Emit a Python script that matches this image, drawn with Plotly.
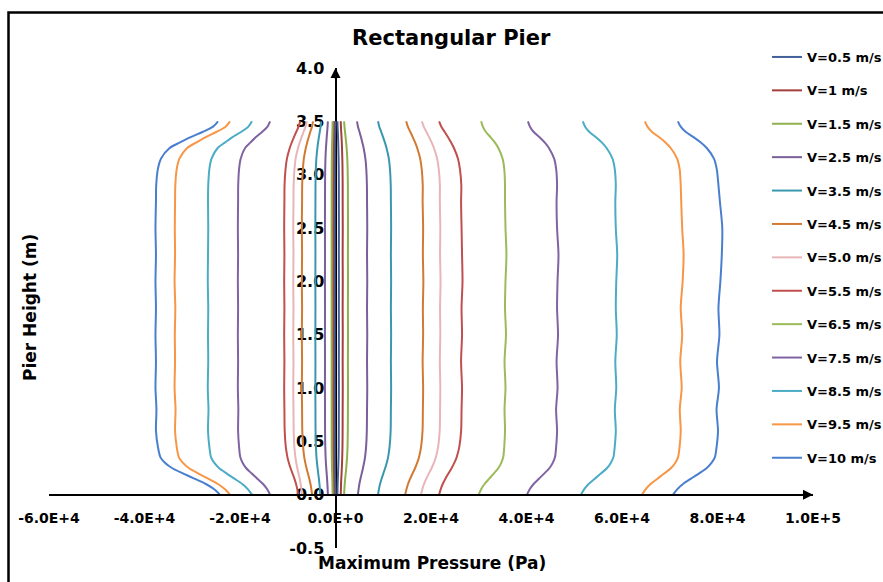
import plotly.graph_objects as go

# Heights along the pier (m)
heights = [0.0, 0.05, 0.1, 0.15, 0.2, 0.25, 0.3, 0.35, 0.45, 0.6, 0.8, 1.0, 1.25, 1.5,
           1.75, 2.0, 2.25, 2.5, 2.75, 2.9, 3.05, 3.15, 3.25, 3.3, 3.35, 3.4, 3.45, 3.5]

# Positive-side pressure profiles (Pa)
pos_05 = [400, 420, 450, 490, 530, 570, 610, 640, 670, 690, 700, 710, 700, 710, 700, 710, 700, 710, 700, 700, 680, 650, 600, 570, 530, 490, 440, 400]
pos_10 = [1100, 1130, 1160, 1210, 1270, 1320, 1370, 1410, 1460, 1490, 1500, 1520, 1500, 1520, 1500, 1520, 1500, 1520, 1500, 1500, 1470, 1430, 1360, 1320, 1260, 1200, 1140, 1100]
pos_15 = [1800, 1860, 1930, 2020, 2140, 2250, 2340, 2420, 2520, 2580, 2600, 2620, 2600, 2620, 2600, 2620, 2600, 2620, 2600, 2590, 2540, 2470, 2330, 2230, 2120, 2000, 1880, 1800]
pos_25 = [4700, 4830, 5000, 5230, 5500, 5760, 5990, 6180, 6410, 6560, 6600, 6650, 6600, 6650, 6600, 6650, 6600, 6650, 6600, 6580, 6450, 6260, 5890, 5630, 5340, 5030, 4710, 4500]
pos_35 = [8900, 9090, 9330, 9660, 10030, 10410, 10740, 11010, 11330, 11550, 11600, 11650, 11600, 11650, 11600, 11650, 11600, 11650, 11600, 11570, 11410, 11170, 10680, 10360, 9980, 9580, 9170, 8900]
pos_45 = [14600, 14860, 15190, 15640, 16150, 16670, 17120, 17490, 17930, 18230, 18300, 18350, 18250, 18350, 18300, 18400, 18300, 18350, 18250, 18270, 18060, 17740, 17110, 16690, 16200, 15680, 15150, 14800]
pos_50 = [17900, 18180, 18540, 19020, 19580, 20140, 20620, 21020, 21500, 21820, 21900, 21950, 21850, 21950, 21900, 22000, 21900, 21950, 21850, 21860, 21630, 21290, 20610, 20150, 19620, 19050, 18480, 18100]
pos_55 = [21700, 22030, 22450, 23020, 23670, 24330, 24900, 25370, 25930, 26310, 26400, 26500, 26300, 26500, 26400, 26600, 26500, 26400, 26300, 26350, 26070, 25650, 24800, 24240, 23580, 22880, 22170, 21700]
pos_65 = [30000, 30500, 31210, 32200, 33190, 34130, 34730, 35120, 35340, 35500, 35400, 35600, 35400, 35700, 35500, 35600, 35800, 35600, 35500, 35500, 35350, 35000, 34100, 33400, 32500, 31500, 30850, 30500]
pos_75 = [40100, 40670, 41490, 42620, 43750, 44830, 45520, 45960, 46210, 46400, 46200, 46500, 46300, 46600, 46400, 46500, 46700, 46400, 46300, 46400, 46220, 45790, 44690, 43840, 42740, 41520, 40730, 40300]
pos_85 = [51400, 52060, 53010, 54320, 55630, 56880, 57680, 58190, 58480, 58700, 58500, 58800, 58600, 58900, 58700, 58800, 59000, 58700, 58600, 58700, 58490, 58010, 56770, 55800, 54560, 53180, 52280, 51800]
pos_95 = [64200, 64930, 65980, 67440, 68900, 70280, 71170, 71730, 72060, 72300, 72100, 72500, 72200, 72600, 72300, 72700, 72900, 72600, 72400, 72300, 72080, 71550, 70200, 69150, 67800, 66300, 65330, 64800]
pos_100 = [70700, 71550, 72770, 74460, 76150, 77750, 78780, 79440, 79820, 80100, 79800, 80300, 79900, 80400, 80200, 80600, 80900, 81000, 80500, 80200, 79850, 79260, 77750, 76570, 75060, 73380, 72290, 71700]

# Negative-side pressure profiles (Pa)
neg_05 = [-100, -105, -110, -120, -130, -140, -150, -155, -160, -165, -170, -170, -170, -170, -170, -170, -170, -170, -170, -170, -165, -160, -150, -140, -130, -120, -110, -100]
neg_10 = [-350, -360, -380, -400, -420, -440, -460, -470, -490, -500, -500, -510, -500, -510, -500, -510, -500, -510, -500, -500, -490, -480, -460, -440, -420, -400, -370, -350]
neg_15 = [-600, -620, -640, -670, -700, -730, -750, -770, -790, -800, -800, -810, -800, -810, -800, -810, -800, -810, -800, -800, -790, -770, -740, -710, -680, -650, -620, -600]
neg_25 = [-1600, -1640, -1700, -1770, -1850, -1940, -2010, -2070, -2140, -2190, -2200, -2210, -2200, -2210, -2200, -2210, -2200, -2210, -2200, -2190, -2160, -2100, -2000, -1920, -1840, -1750, -1660, -1600]
neg_35 = [-3200, -3270, -3360, -3480, -3620, -3760, -3880, -3980, -4100, -4180, -4200, -4220, -4200, -4220, -4200, -4220, -4200, -4220, -4200, -4190, -4120, -4010, -3790, -3650, -3480, -3300, -3120, -3000]
neg_45 = [-4900, -5050, -5240, -5490, -5780, -6080, -6330, -6540, -6790, -6960, -7000, -7050, -7000, -7050, -7000, -7050, -7000, -7050, -7000, -6980, -6840, -6630, -6220, -5940, -5620, -5280, -4930, -4700]
neg_50 = [-7000, -7130, -7290, -7500, -7760, -8010, -8220, -8400, -8620, -8760, -8800, -8850, -8800, -8850, -8800, -8850, -8800, -8850, -8800, -8770, -8600, -8350, -7850, -7510, -7120, -6700, -6280, -6000]
neg_55 = [-7800, -8000, -8260, -8610, -9020, -9420, -9770, -10060, -10410, -10640, -10700, -10750, -10700, -10750, -10700, -10750, -10700, -10750, -10700, -10670, -10470, -10170, -9580, -9180, -8720, -8230, -7730, -7400]
neg_75 = [-13700, -14300, -15170, -16380, -17590, -18730, -19460, -19930, -20200, -20400, -20350, -20450, -20400, -20450, -20400, -20450, -20400, -20450, -20400, -20380, -20200, -19860, -18930, -17850, -16720, -15380, -14240, -13700]
neg_85 = [-17500, -18330, -19520, -21180, -22840, -24400, -25410, -26060, -26420, -26700, -26600, -26750, -26650, -26700, -26650, -26750, -26700, -26650, -26700, -26650, -26420, -25960, -24680, -23200, -21640, -19800, -18240, -17500]
neg_95 = [-22100, -23140, -24630, -26700, -28770, -30730, -31990, -32800, -33260, -33600, -33500, -33700, -33600, -33650, -33550, -33700, -33600, -33650, -33600, -33550, -33260, -32680, -31070, -29230, -27280, -24980, -23020, -22100]
neg_100 = [-24200, -25410, -27150, -29560, -31970, -34250, -35720, -36660, -37200, -37600, -37500, -37700, -37600, -37700, -37600, -37700, -37600, -37700, -37600, -37550, -37210, -36560, -34740, -32660, -30450, -27850, -25640, -24600]

series_names = ["V=0.5 m/s", "V=1 m/s", "V=1.5 m/s", "V=2.5 m/s", "V=3.5 m/s", "V=4.5 m/s",
                "V=5.0 m/s", "V=5.5 m/s", "V=6.5 m/s", "V=7.5 m/s", "V=8.5 m/s", "V=9.5 m/s", "V=10 m/s"]
series_colors = ["#41609A", "#A33F3C", "#8FB04E", "#7A5F9A", "#3A98AE", "#D27A33",
                 "#E8B6B8", "#C0504D", "#9BBB59", "#8064A2", "#4BACC6", "#F79646", "#4A7FCF"]
pos_profiles = [pos_05, pos_10, pos_15, pos_25, pos_35, pos_45, pos_50, pos_55, pos_65,
                pos_75, pos_85, pos_95, pos_100]
neg_profiles = [neg_05, neg_10, neg_15, neg_25, neg_35, neg_45, neg_50, neg_55, None,
                neg_75, neg_85, neg_95, neg_100]

x_tickvals = [-60000, -40000, -20000, 0, 20000, 40000, 60000, 80000, 100000]
x_ticktext = ["-6.0E+4", "-4.0E+4", "-2.0E+4", "0.0E+0", "2.0E+4", "4.0E+4", "6.0E+4", "8.0E+4", "1.0E+5"]
y_tickvals = [-0.5, 0.0, 0.5, 1.0, 1.5, 2.0, 2.5, 3.0, 3.5, 4.0]
y_ticktext = ["-0.5", "0.0", "0.5", "1.0", "1.5", "2.0", "2.5", "3.0", "3.5", "4.0"]

FONT = "DejaVu Sans"
W, H = 883, 582
ML, MR, MT, MB = 49, 70, 68, 34
W_PLOT, H_PLOT = W - ML - MR, H - MT - MB


def px_to_paper(px, py):
    return (px - ML) / W_PLOT, 1 - (py - MT) / H_PLOT


fig = go.Figure()
for name, color, pos, neg in zip(series_names, series_colors, pos_profiles, neg_profiles):
    fig.add_trace(go.Scatter(x=pos, y=heights, mode="lines", name=name, legendgroup=name,
                             line=dict(color=color, width=2, shape="spline", smoothing=0.8)))
    if neg is not None:
        fig.add_trace(go.Scatter(x=neg, y=heights, mode="lines", name=name, legendgroup=name,
                                 showlegend=False,
                                 line=dict(color=color, width=2, shape="spline", smoothing=0.8)))

leg_x, leg_y = px_to_paper(767, 42)
xt_x, xt_y = px_to_paper(432, 563)
yt_x, yt_y = px_to_paper(30, 308)
bx0, by1 = px_to_paper(8.5, 12.5)

fig.update_layout(
    width=W, height=H,
    margin=dict(l=ML, r=MR, t=MT, b=MB, autoexpand=False),
    paper_bgcolor="white", plot_bgcolor="white",
    font=dict(family=FONT, color="black"),
    showlegend=True,
    legend=dict(x=leg_x, xanchor="left", y=leg_y, yanchor="top", maxheight=560,
                font=dict(family=FONT, size=13, weight="bold", color="black"),
                tracegroupgap=13.5, itemwidth=30, bgcolor="rgba(0,0,0,0)"),
    xaxis=dict(range=[-60000, 100000], anchor="free", position=0.5 / 4.5,
               showline=True, linecolor="black", linewidth=2, showgrid=False, zeroline=False,
               tickmode="array", tickvals=x_tickvals, ticktext=x_ticktext, ticks="",
               ticklabelstandoff=11,
               tickfont=dict(family=FONT, size=14, weight="bold", color="black")),
    yaxis=dict(range=[-0.5, 4.0], anchor="free", position=0.375,
               showline=True, linecolor="black", linewidth=2, showgrid=False, zeroline=False,
               tickmode="array", tickvals=y_tickvals, ticktext=y_ticktext, ticks="",
               ticklabelstandoff=7, layer="below traces",
               tickfont=dict(family=FONT, size=16, weight="bold", color="black")),
    title=dict(text="Rectangular Pier", x=0.511, xref="container", xanchor="center",
               y=1 - 38 / H, yref="container", yanchor="middle",
               font=dict(family=FONT, size=21, weight="bold", color="black")),
    shapes=[dict(type="rect", xref="paper", yref="paper", x0=bx0, x1=1.3, y0=-0.3, y1=by1,
                 line=dict(color="black", width=2.5), layer="below")],
    annotations=[
        dict(x=100000, y=0, xref="x", yref="y", ax=-12, ay=0, text="", showarrow=True,
             arrowhead=2, arrowsize=1, arrowwidth=2, arrowcolor="black"),
        dict(x=0, y=4.0, xref="x", yref="y", ax=0, ay=12, text="", showarrow=True,
             arrowhead=2, arrowsize=1, arrowwidth=2, arrowcolor="black"),
        dict(text="Maximum Pressure (Pa)", x=xt_x, y=xt_y, xref="paper", yref="paper",
             xanchor="center", yanchor="middle", showarrow=False,
             font=dict(family=FONT, size=17, weight="bold", color="black")),
        dict(text="Pier Height (m)", textangle=-90, x=yt_x, y=yt_y, xref="paper", yref="paper",
             xanchor="center", yanchor="middle", showarrow=False,
             font=dict(family=FONT, size=17, weight="bold", color="black")),
    ],
)

fig.write_html("out.html")
